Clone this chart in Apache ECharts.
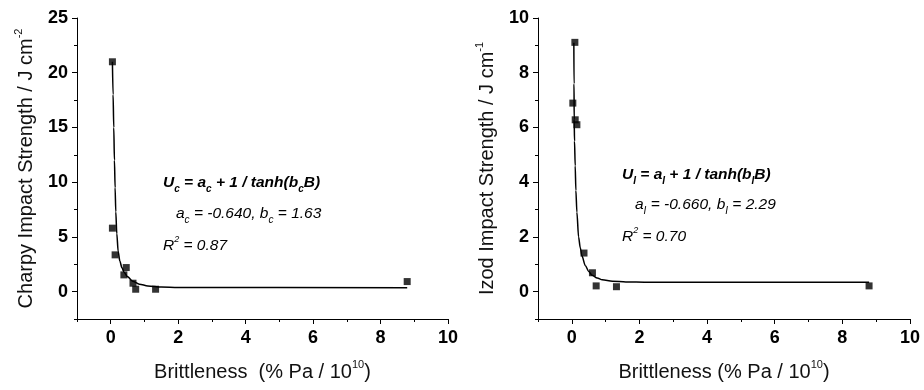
<!DOCTYPE html>
<html>
<head>
<meta charset="utf-8">
<script src="https://cdn.jsdelivr.net/npm/echarts@6/dist/echarts.min.js"></script>
<style>html,body{margin:0;padding:0;background:#fff}#c{width:924px;height:390px}</style>
</head>
<body>
<div id="c"></div>
<script>
// ---- data ----
const charpyX = [0.05, 0.05, 0.13, 0.39, 0.46, 0.66, 0.74, 1.33, 8.79];
const charpyY = [21.0, 5.8, 3.36, 1.53, 2.2, 0.77, 0.22, 0.22, 0.92];
const izodX = [0.09, 0.03, 0.10, 0.15, 0.36, 0.61, 0.72, 1.32, 8.79];
const izodY = [9.11, 6.89, 6.28, 6.1, 1.41, 0.69, 0.21, 0.18, 0.21];

const charpyFitX = [0.05, 0.07, 0.09, 0.11, 0.13, 0.15, 0.18, 0.22, 0.27, 0.33, 0.4, 0.5, 0.65, 0.85, 1.1, 1.5, 2.0, 8.79];
const charpyFitY = [21, 18, 15, 12, 9.5, 7.3, 5.3, 3.7, 2.8, 2.2, 1.75, 1.35, 0.95, 0.68, 0.52, 0.42, 0.38, 0.36];
const izodFitX = [0.06, 0.065, 0.07, 0.08, 0.1, 0.12, 0.15, 0.2, 0.25, 0.3, 0.4, 0.5, 0.6, 0.75, 0.9, 1.2, 1.6, 2.2, 8.79];
const izodFitY = [9.1, 7.6, 6.3, 5.5, 4.6, 3.7, 2.9, 2.0, 1.6, 1.3, 0.95, 0.74, 0.6, 0.5, 0.43, 0.38, 0.355, 0.345, 0.34];

const xMajorTicks = [0, 2, 4, 6, 8, 10];
const xMinorTicks = [-1, 1, 3, 5, 7, 9];
const charpyMajorTicks = [0, 5, 10, 15, 20, 25];
const charpyMinorTicks = [-2.5, 2.5, 7.5, 12.5, 17.5, 22.5];
const izodMajorTicks = [0, 2, 4, 6, 8, 10];
const izodMinorTicks = [-1, 1, 3, 5, 7, 9];

const xTitle = ['{t|Brittleness  (% Pa / 10}{sup|10}{t|)}', '{t|Brittleness (% Pa / 10}{sup|10}{t|)}'];
const yTitle = ['{t|Charpy Impact Strength / J cm}{sup|-2}', '{t|Izod Impact Strength / J cm}{sup|-1}'];

// ---- styling ----
const FONT = 'Liberation Sans, Arial, sans-serif';
const black = '#000';
const titleRich = {
  t: { fontFamily: FONT, fontSize: 20, color: '#111', lineHeight: 26, verticalAlign: 'middle' },
  sup: { fontFamily: FONT, fontSize: 11, color: '#111', lineHeight: 11, verticalAlign: 'top' }
};
function zip(a, b) { return a.map((v, i) => [v, b[i]]); }

function xAxes(grid, idx) {
  return [
    { gridIndex: grid, type: 'value', min: -1, max: 10, interval: 1, position: 'bottom',
      name: xTitle[idx], nameLocation: 'middle', nameGap: 40,
      nameTextStyle: { rich: titleRich },
      axisLine: { show: true, onZero: false, lineStyle: { color: black, width: 1 } },
      axisTick: { show: true, inside: false, length: 5, customValues: xMajorTicks, lineStyle: { color: black } },
      axisLabel: { customValues: xMajorTicks, margin: 10, fontFamily: FONT, fontWeight: 'bold', fontSize: 18, color: black },
      splitLine: { show: false } },
    { gridIndex: grid, type: 'value', min: -1, max: 10, interval: 1, position: 'bottom',
      axisLine: { show: false, onZero: false },
      axisTick: { show: true, inside: false, length: 3, customValues: xMinorTicks, lineStyle: { color: black } },
      axisLabel: { show: false }, splitLine: { show: false } }
  ];
}
function yAxes(grid, idx, min, max, major, minor) {
  return [
    { gridIndex: grid, type: 'value', min: min, max: max, interval: 0.5, position: 'left',
      name: yTitle[idx], nameLocation: 'middle', nameGap: 38, nameRotate: 90,
      nameTextStyle: { rich: titleRich },
      axisLine: { show: true, onZero: false, lineStyle: { color: black, width: 1 } },
      axisTick: { show: true, inside: false, length: 5, customValues: major, lineStyle: { color: black } },
      axisLabel: { customValues: major, margin: 9, fontFamily: FONT, fontWeight: 'bold', fontSize: 18, color: black },
      splitLine: { show: false } },
    { gridIndex: grid, type: 'value', min: min, max: max, interval: 0.5, position: 'left',
      axisLine: { show: false, onZero: false },
      axisTick: { show: true, inside: false, length: 3, customValues: minor, lineStyle: { color: black } },
      axisLabel: { show: false }, splitLine: { show: false } }
  ];
}

const annRich = {
  b: { fontFamily: FONT, fontSize: 15.5, fontStyle: 'italic', fontWeight: 'bold', color: black, lineHeight: 22, verticalAlign: 'middle' },
  bs: { fontFamily: FONT, fontSize: 10, fontStyle: 'italic', fontWeight: 'bold', color: black, lineHeight: 10, verticalAlign: 'bottom' },
  n: { fontFamily: FONT, fontSize: 15.5, fontStyle: 'italic', color: '#111', lineHeight: 22, verticalAlign: 'middle' },
  ns: { fontFamily: FONT, fontSize: 10, fontStyle: 'italic', color: '#111', lineHeight: 10, verticalAlign: 'bottom' },
  sup: { fontFamily: FONT, fontSize: 9, fontStyle: 'italic', color: '#111', lineHeight: 12, verticalAlign: 'top' }
};
function ann(x, y, text) {
  return { type: 'text', x: x, y: y, style: { text: text, rich: annRich, verticalAlign: 'middle', align: 'left' } };
}

const option = {
  backgroundColor: '#fff',
  animation: false,
  grid: [
    { left: 77, top: 18, width: 371, height: 301 },
    { left: 538, top: 18, width: 372, height: 301 }
  ],
  xAxis: [...xAxes(0, 0), ...xAxes(1, 1)],
  yAxis: [...yAxes(0, 0, -2.5, 25, charpyMajorTicks, charpyMinorTicks),
          ...yAxes(1, 1, -1, 10, izodMajorTicks, izodMinorTicks)],
  series: [
    { type: 'line', xAxisIndex: 0, yAxisIndex: 0, data: zip(charpyFitX, charpyFitY), showSymbol: false,
      smooth: 0.3, smoothMonotone: 'x', lineStyle: { color: black, width: 1.5 }, z: 2 },
    { type: 'scatter', xAxisIndex: 0, yAxisIndex: 0, data: zip(charpyX, charpyY), symbol: 'rect', symbolSize: 7,
      itemStyle: { color: black }, z: 3 },
    { type: 'line', xAxisIndex: 2, yAxisIndex: 2, data: zip(izodFitX, izodFitY), showSymbol: false,
      smooth: 0.3, smoothMonotone: 'x', lineStyle: { color: black, width: 1.5 }, z: 2 },
    { type: 'scatter', xAxisIndex: 2, yAxisIndex: 2, data: zip(izodX, izodY), symbol: 'rect', symbolSize: 7,
      itemStyle: { color: black }, z: 3 }
  ],
  graphic: [
    ann(163, 183, '{b|U}{bs|c}{b| = a}{bs|c}{b| + 1 / tanh(b}{bs|c}{b|B)}'),
    ann(176, 214, '{n|a}{ns|c}{n| = -0.640, b}{ns|c}{n| = 1.63}'),
    ann(163, 246, '{n|R}{sup|2}{n| = 0.87}'),
    ann(622, 175, '{b|U}{bs|I}{b| = a}{bs|I}{b| + 1 / tanh(b}{bs|I}{b|B)}'),
    ann(635, 205, '{n|a}{ns|I}{n| = -0.660, b}{ns|I}{n| = 2.29}'),
    ann(622, 237, '{n|R}{sup|2}{n| = 0.70}')
  ]
};
const chart = echarts.init(document.getElementById('c'), null, { renderer: 'canvas' });
chart.setOption(option);
</script>
</body>
</html>
